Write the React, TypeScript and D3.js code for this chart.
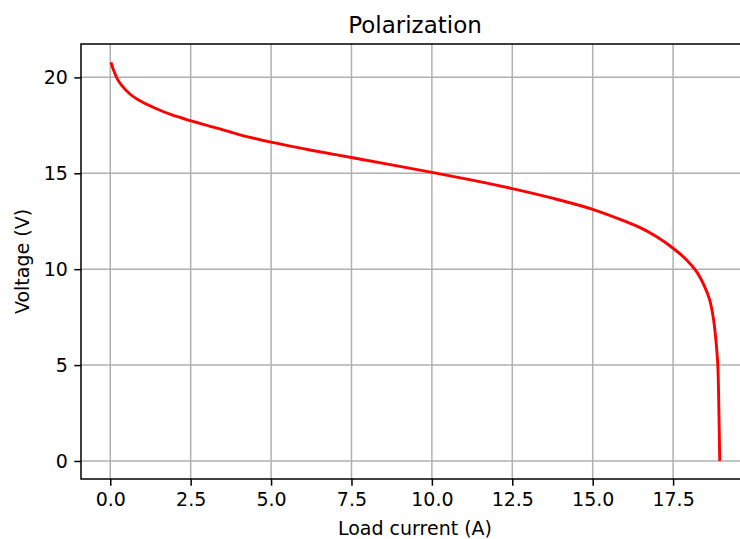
import React, { useEffect, useRef } from 'react';
import * as d3 from 'd3';

// polarization curve
const current = [0.02, 0.1, 0.21, 0.36, 0.62, 0.88, 1.4, 1.92, 2.52, 3.26, 4, 5, 6.25, 7.5, 8.75, 10, 11.25, 12.5, 13.75, 15, 16, 16.46, 16.98, 17.5, 17.92, 18.23, 18.48, 18.64, 18.76, 18.84, 18.89, 18.925, 18.95];
const voltage = [20.79, 20.39, 19.95, 19.57, 19.12, 18.82, 18.39, 18.04, 17.73, 17.38, 17.02, 16.62, 16.2, 15.82, 15.44, 15.05, 14.64, 14.2, 13.7, 13.12, 12.5, 12.18, 11.7, 11.09, 10.48, 9.87, 9.09, 8.39, 7.35, 6.13, 5.0, 2.5, 0];

const xTicks = [0, 2.5, 5, 7.5, 10, 12.5, 15, 17.5];
const yTicks = [0, 5, 10, 15, 20];
const xDomain = [-0.91, 19.86];
const yDomain = [-0.94, 21.74];

const App = () => {
  const svgRef = useRef<SVGSVGElement>(null);
  const width = 740;
  const height = 539;

  useEffect(() => {
    const svg = d3.select(svgRef.current);
    svg.selectAll('*').remove();

    const margin = { top: 44, right: -9, bottom: 60, left: 81 };
    const innerWidth = width - margin.left - margin.right;
    const innerHeight = height - margin.top - margin.bottom;
    const font = '"DejaVu Sans", sans-serif';

    svg.append('rect').attr('width', width).attr('height', height).attr('fill', 'white');

    const g = svg.append('g').attr('transform', `translate(${margin.left},${margin.top})`);

    const x = d3.scaleLinear().domain(xDomain).range([0, innerWidth]);
    const y = d3.scaleLinear().domain(yDomain).range([innerHeight, 0]);

    // grid
    g.append('g')
      .selectAll('line')
      .data(xTicks)
      .enter()
      .append('line')
      .attr('x1', d => x(d))
      .attr('x2', d => x(d))
      .attr('y1', 0)
      .attr('y2', innerHeight)
      .attr('stroke', '#b0b0b0')
      .attr('stroke-width', 1.5);

    g.append('g')
      .selectAll('line')
      .data(yTicks)
      .enter()
      .append('line')
      .attr('x1', 0)
      .attr('x2', innerWidth)
      .attr('y1', d => y(d))
      .attr('y2', d => y(d))
      .attr('stroke', '#b0b0b0')
      .attr('stroke-width', 1.5);

    // curve
    const pts = current.map((c, i) => [c, voltage[i]] as [number, number]);
    const line = d3.line<[number, number]>()
      .x(d => x(d[0]))
      .y(d => y(d[1]))
      .curve(d3.curveCatmullRom.alpha(0.5));

    g.append('path')
      .datum(pts)
      .attr('d', line)
      .attr('fill', 'none')
      .attr('stroke', '#ff0000')
      .attr('stroke-width', 2.9)
      .attr('stroke-linejoin', 'round');

    // axes
    const xAxis = g.append('g')
      .attr('transform', `translate(0,${innerHeight})`)
      .call(d3.axisBottom(x).tickValues(xTicks).tickFormat(d3.format('.1f')).tickSize(6.7).tickPadding(6.5));
    const yAxis = g.append('g')
      .call(d3.axisLeft(y).tickValues(yTicks).tickFormat(d3.format('d')).tickSize(6.7).tickPadding(6.5));

    [xAxis, yAxis].forEach(a => {
      a.select('.domain').remove();
      a.selectAll('line').attr('stroke', 'black').attr('stroke-width', 1.5);
      a.selectAll('text').style('font-family', font).style('font-size', '19px').attr('fill', 'black');
    });

    // spines
    g.append('rect')
      .attr('x', 0)
      .attr('y', 0)
      .attr('width', innerWidth)
      .attr('height', innerHeight)
      .attr('fill', 'none')
      .attr('stroke', 'black')
      .attr('stroke-width', 1.5);

    // labels
    svg.append('text')
      .attr('x', margin.left + innerWidth / 2)
      .attr('y', 33)
      .attr('text-anchor', 'middle')
      .style('font-family', font)
      .style('font-size', '23px')
      .text('Polarization');

    svg.append('text')
      .attr('x', margin.left + innerWidth / 2)
      .attr('y', 535)
      .attr('text-anchor', 'middle')
      .style('font-family', font)
      .style('font-size', '19px')
      .text('Load current (A)');

    svg.append('text')
      .attr('transform', `translate(29,${margin.top + innerHeight / 2}) rotate(-90)`)
      .attr('text-anchor', 'middle')
      .style('font-family', font)
      .style('font-size', '19px')
      .text('Voltage (V)');
  }, []);

  return (
    <svg ref={svgRef} width={width} height={height} style={{ position: 'absolute', left: 0, top: 0 }}></svg>
  );
};

export default App;
